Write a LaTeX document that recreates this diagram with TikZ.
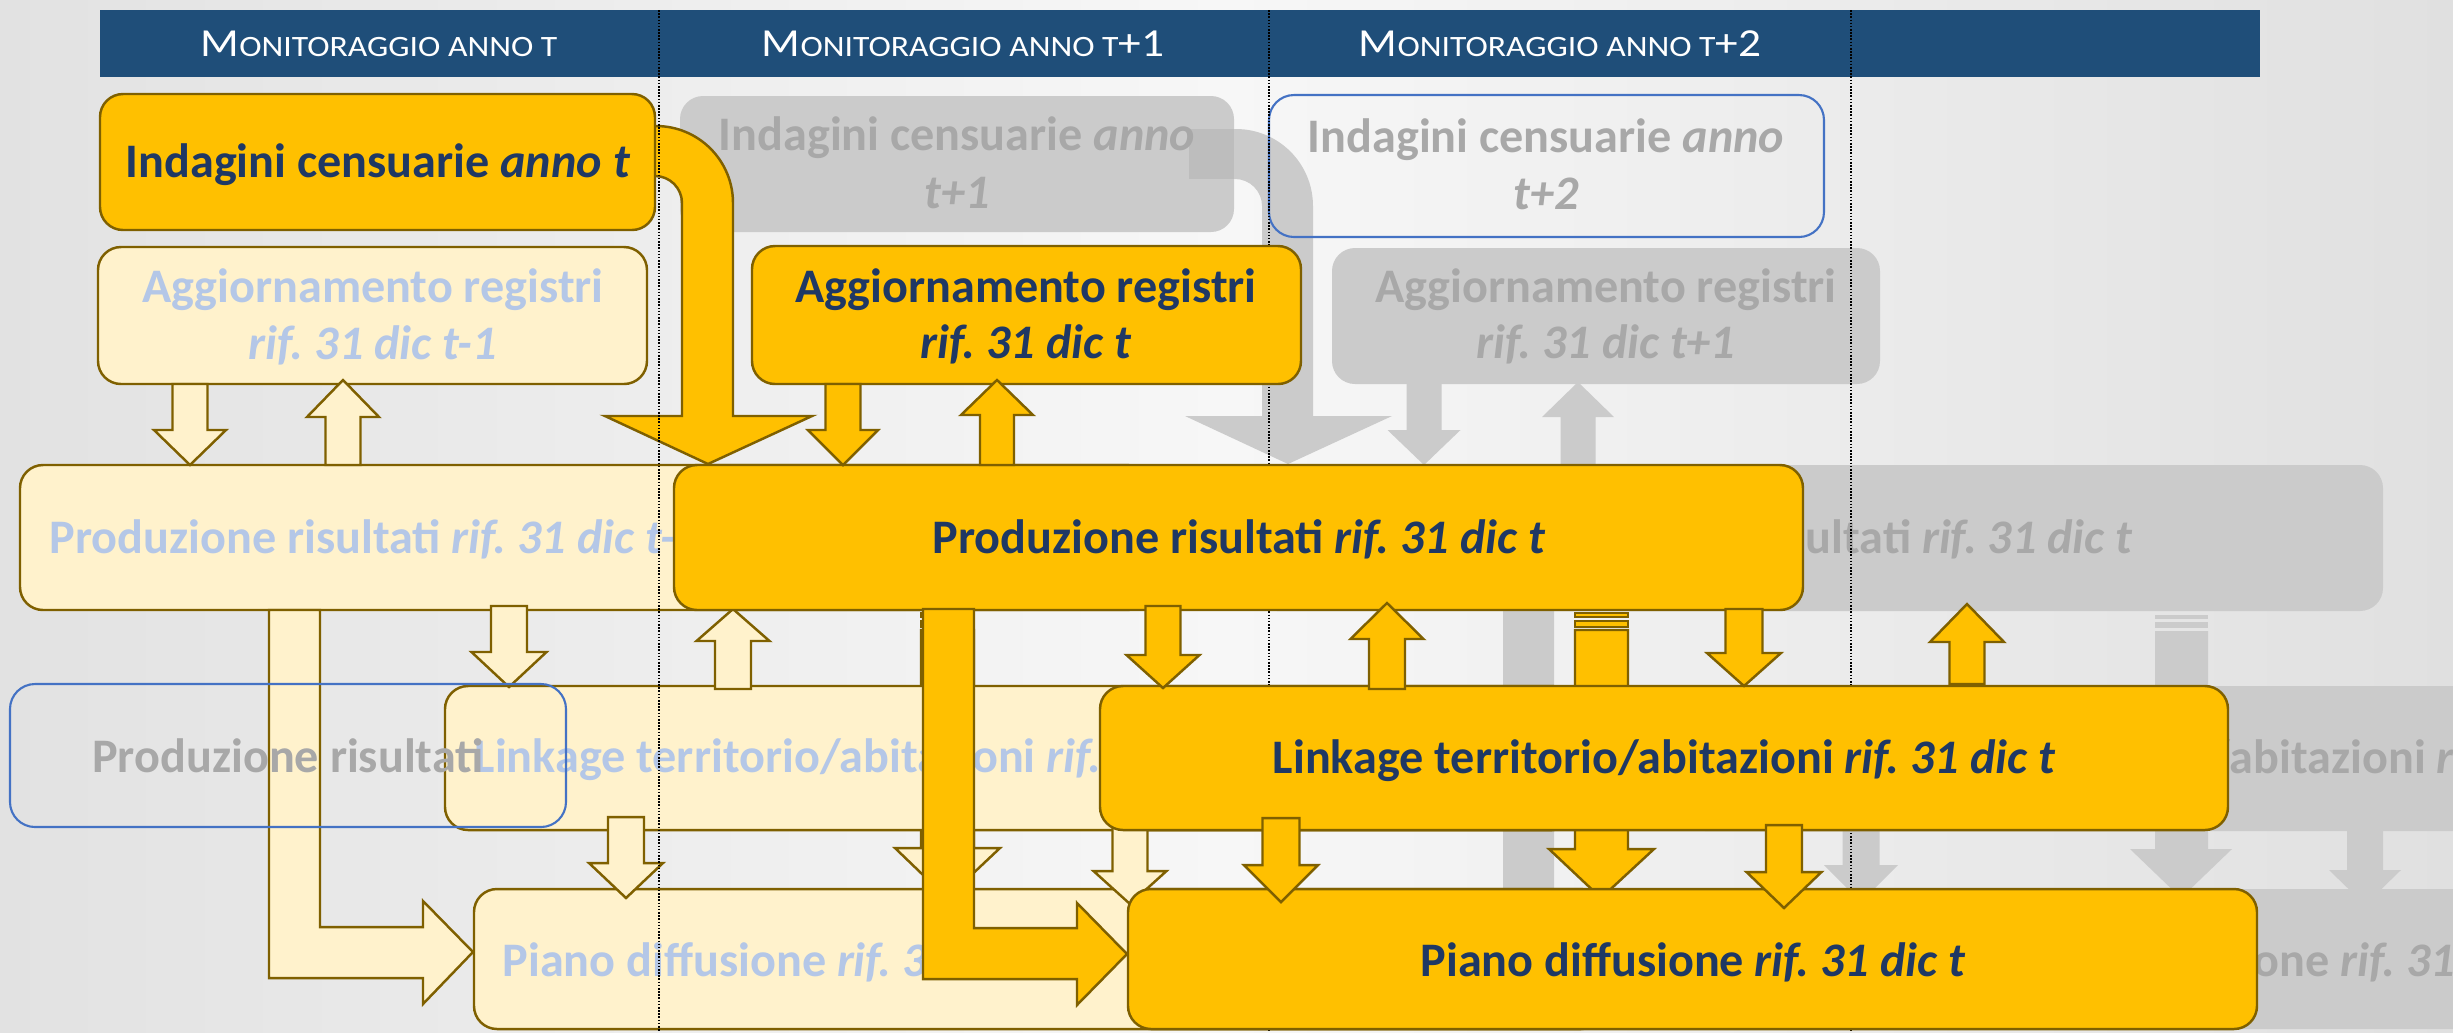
\documentclass[tikz,border=0pt]{standalone}
\usepackage{fontspec}
\setmainfont{Carlito}
\usepackage{graphicx}
\usetikzlibrary{fit}
\frenchspacing
\definecolor{hdrblue}{HTML}{1F4E79}
\definecolor{goldf}{HTML}{FFC000}
\definecolor{goldl}{HTML}{7F6000}
\definecolor{creamf}{HTML}{FFF2CC}
\definecolor{navy}{HTML}{1F3864}
\definecolor{ltblue}{HTML}{B4C7E7}
\definecolor{grayt}{HTML}{A8A8A8}
\definecolor{grayf}{HTML}{CBCBCB}
\definecolor{grayd}{HTML}{BDBDBD}
\definecolor{bluel}{HTML}{4472C4}
\definecolor{bgL}{HTML}{E2E2E2}
\definecolor{bgM}{HTML}{F7F7F7}
\definecolor{bgR}{HTML}{E0E0E0}

\newcommand{\blkarr}[7]{\draw[#1] (#2-#6,#3) -- (#2+#6,#3) -- (#2+#6,#4) -- (#2+#7,#4) -- (#2,#5) -- (#2-#7,#4) -- (#2-#6,#4) -- cycle;}
\newcommand{\hdrtxt}[1]{\scalebox{1.14}[1]{\fontsize{11.3}{13}\selectfont M{\fontsize{8.4}{10}\selectfont ONITORAGGIO ANNO T}#1}}
\newcommand{\boxtxt}{\fontsize{13.7}{16}\selectfont\bfseries}

\begin{document}
\begin{tikzpicture}[x=0.01cm,y=-0.01cm,
  boxbase/.style={inner sep=0pt, rounded corners=0.23cm},
  goldbox/.style={boxbase, fill=goldf, draw=goldl, line width=0.7pt},
  creambox/.style={boxbase, fill=creamf, draw=goldl, line width=0.7pt},
  graybox/.style={boxbase, fill=grayf, draw=none},
  bluebox/.style={inner sep=0pt, draw=bluel, line width=0.6pt, rounded corners=0.25cm},
  goldshape/.style={fill=goldf, draw=goldl, line width=0.7pt},
  creamshape/.style={fill=creamf, draw=goldl, line width=0.7pt},
  grayshape/.style={fill=grayf, draw=none},
  tgold/.style={text=navy, font=\boxtxt, inner sep=0pt},
  tcream/.style={text=ltblue, font=\boxtxt, inner sep=0pt},
  tgray/.style={text=grayt, font=\boxtxt, inner sep=0pt},
  thdr/.style={text=white, inner sep=0pt, anchor=base},
  dotline/.style={line width=0.45pt, dash pattern=on 0.45pt off 0.45pt, black}
]
\useasboundingbox (0,0) rectangle (2453,1032);
\clip (0,0) rectangle (2453,1032);
\shade[left color=bgL, right color=bgR, middle color=bgM] (0,0) rectangle (2453,1032);

% header
\node[fit={(100,10) (2260,77)}, inner sep=0pt, fill=hdrblue] (hdr) {};
\node[thdr] (h1) at (379,56) {\hdrtxt{}};
\node[thdr] (h2) at (963,56) {\hdrtxt{+1}};
\node[thdr] (h3) at (1560,56) {\hdrtxt{+2}};

% ---------- gray layer (year t+1) ----------
\node[graybox, fit={(680,96) (1234,232)}] (yind) {};
\node[graybox, fit={(1332,248) (1880,384)}] (yagg) {};
\node[graybox, fit={(1254,465) (2383,611)}] (yprod) {};
\node[graybox, fit={(1682,686) (2812,831)}] (ylink) {};
\node[graybox, fit={(1710,889) (2840,1029)}] (ypiano) {};
\fill[grayshape] (1189,129) -- (1236,129) arc[start angle=-90,end angle=0,radius=77] -- (1313,416) -- (1392,416) -- (1288,464) -- (1185,416) -- (1262,416) -- (1262,206) arc[start angle=0,end angle=-90,radius=27] -- (1189,179) -- cycle;
\fill[grayd] (1189,129) rectangle (1234,179);
\blkarr{grayshape}{1424}{384}{430}{465}{17.5}{36.5}
\blkarr{grayshape}{1578}{465}{417}{382}{17.5}{36}
\blkarr{grayshape}{1861}{818}{865}{902}{18.5}{37}
\blkarr{grayshape}{2365}{824}{870}{905}{18}{36}
\fill[grayshape] (1503,611) -- (1554,611) -- (1554,928) -- (1657,928) -- (1657,903) -- (1707,954) -- (1657,1005) -- (1657,979) -- (1503,979) -- cycle;
\fill[grayshape] (2155,615) rectangle (2208,619);
\fill[grayshape] (2155,622) rectangle (2208,628);
\fill[grayshape] (2155,631) -- (2208,631) -- (2208,849) -- (2232,849) -- (2181,898) -- (2130,849) -- (2155,849) -- cycle;
\node[tgray, anchor=base] at (957,150) {Indagini censuarie \textit{anno}};
\node[tgray, anchor=base] at (957,208) {\textit{t+1}};
\node[tgray, anchor=base] at (1606,302) {Aggiornamento registri};
\node[tgray, anchor=base] at (1606,358) {\textit{rif. 31 dic t+1}};
\node[tgray, anchor=base west] at (1805,553) {\llap{Produzione ris}ultati \textit{rif. 31 dic t}};
\node[tgray, anchor=base west] at (2229,773) {\llap{Linkage territorio/}abitazioni \textit{rif. 31 dic t+1}};
\node[tgray, anchor=base west] at (2253,976) {\llap{Piano diffusi}one \textit{rif. 31 dic t+1}};

% ---------- cream layer (year t-1) ----------
\draw[creamshape] (921,613) rectangle (974,617);
\draw[creamshape] (921,621) rectangle (974,627);
\draw[creamshape] (921,630) -- (974,630) -- (974,848) -- (1000,848) -- (947,898) -- (895,848) -- (921,848) -- cycle;
\node[creambox, fit={(98,247) (647,384)}] (cagg) {};
\node[creambox, fit={(20,465) (1150,610)}] (cprod) {};
\node[creambox, fit={(445,686) (1575,830)}] (clink) {};
\node[creambox, fit={(474,889) (1604,1029)}] (cpiano) {};
\blkarr{creamshape}{190}{384}{430}{465}{17.5}{36}
\blkarr{creamshape}{343}{465}{417}{380}{17.5}{36}
\blkarr{creamshape}{509}{606}{652}{687}{18}{37.5}
\blkarr{creamshape}{733}{689}{641}{609}{18}{36.5}
\blkarr{creamshape}{626}{817}{863}{898}{18}{37}
\blkarr{creamshape}{1130}{820}{871}{904}{17.5}{36.5}
\draw[creamshape] (269,610) -- (320,610) -- (320,927) -- (423,927) -- (423,901) -- (473,952) -- (423,1004) -- (423,978) -- (269,978) -- cycle;
\node[tcream, anchor=base] at (373,302) {Aggiornamento registri};
\node[tcream, anchor=base] at (373,359) {\textit{rif. 31 dic t-1}};
\node[tcream, anchor=base west] at (49,553) {Produzione risultati \textit{rif. 31 dic t-1}};
\node[tcream, anchor=base west] at (474,772) {Linkage territorio/abitazioni \textit{rif. 31 dic t-1}};
\node[tcream, anchor=base west] at (502,976) {Piano diffusione \textit{rif. 31 dic t-1}};

% ---------- blue outline boxes ----------
\node[bluebox, fit={(1269,95) (1824,237)}] (bind) {};
\node[tgray, anchor=base] at (1546,152) {Indagini censuarie \textit{anno}};
\node[tgray, anchor=base] at (1546,209) {\textit{t+2}};
\node[bluebox, fit={(10,684) (566,827)}] (bprod) {};
\node[tgray, anchor=base] at (288,772) {Produzione risultati};

% ---------- gold layer (year t) ----------
\draw[goldshape] (620,126) -- (656,126) arc[start angle=-90,end angle=0,radius=77] -- (733,416) -- (812,416) -- (708,464) -- (605,416) -- (682,416) -- (682,203) arc[start angle=0,end angle=-90,radius=27] -- (620,176) -- cycle;
\draw[goldshape] (1575,613) rectangle (1628,617);
\draw[goldshape] (1575,621) rectangle (1628,627);
\draw[goldshape] (1575,630) -- (1628,630) -- (1628,849) -- (1654,849) -- (1601,898) -- (1549,849) -- (1575,849) -- cycle;

% dotted year separators
\coordinate (d1t) at (659,10); \coordinate (d1b) at (659,1032);
\coordinate (d2t) at (1269,10); \coordinate (d2b) at (1269,1032);
\coordinate (d3t) at (1851,10); \coordinate (d3b) at (1851,1032);
\draw[dotline] (d1t) -- (d1b);
\draw[dotline] (d2t) -- (d2b);
\draw[dotline] (d3t) -- (d3b);

\node[goldbox, fit={(100,94) (655,230)}] (gind) {};
\node[goldbox, fit={(752,246) (1301,384)}] (gagg) {};
\node[goldbox, fit={(674,465) (1803,610)}] (gprod) {};
\node[goldbox, fit={(1100,686) (2228,830)}] (glink) {};
\node[goldbox, fit={(1128,889) (2257,1029)}] (gpiano) {};

\blkarr{goldshape}{843}{384}{430}{465}{17.5}{35}
\blkarr{goldshape}{997}{465}{415}{380}{17}{36}
\blkarr{goldshape}{1163}{606}{655}{688}{17.5}{36.5}
\blkarr{goldshape}{1387}{689}{639}{603}{18}{36.5}
\blkarr{goldshape}{1744}{609}{653}{686}{18.5}{37}
\blkarr{goldshape}{1967}{684}{642}{604}{17.5}{37}
\blkarr{goldshape}{1281}{818}{865}{902}{18.5}{37}
\blkarr{goldshape}{1784}{825}{872}{908}{18}{37.5}
\draw[goldshape] (923,609) -- (974,609) -- (974,928) -- (1077,928) -- (1077,903) -- (1127,954) -- (1077,1005) -- (1077,979) -- (923,979) -- cycle;

\node[tgold, anchor=base] at (378,177) {Indagini censuarie \textit{anno t}};
\node[tgold, anchor=base] at (1026,302) {Aggiornamento registri};
\node[tgold, anchor=base] at (1026,358) {\textit{rif. 31 dic t}};
\node[tgold, anchor=base] at (1239,553) {Produzione risultati \textit{rif. 31 dic t}};
\node[tgold, anchor=base] at (1664,773) {Linkage territorio/abitazioni \textit{rif. 31 dic t}};
\node[tgold, anchor=base] at (1693,976) {Piano diffusione \textit{rif. 31 dic t}};
\end{tikzpicture}
\end{document}
